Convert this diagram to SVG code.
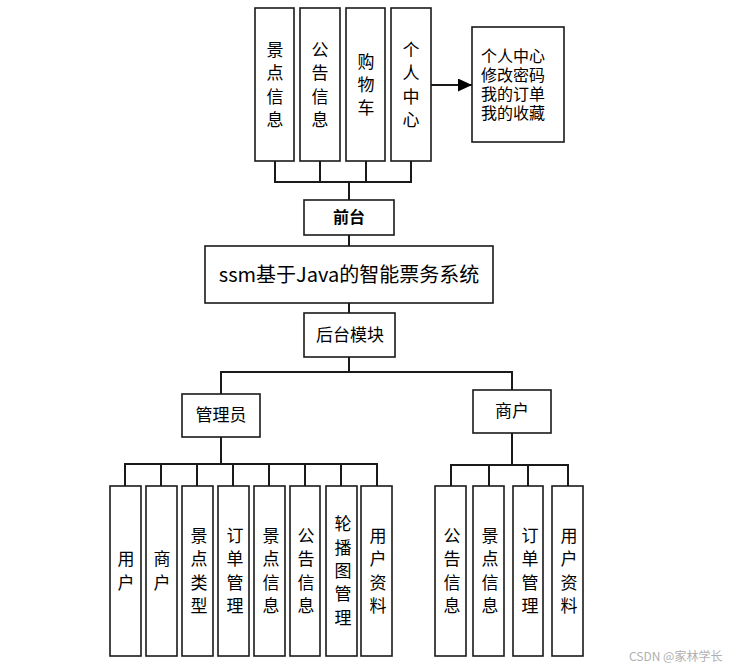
<svg xmlns="http://www.w3.org/2000/svg" width="739" height="669" viewBox="0 0 739 669">
<style>
.box{fill:#fff;stroke:#1a1a1a;stroke-width:1.6}
.t{font-family:"Noto Sans CJK SC","Microsoft YaHei",sans-serif;fill:#000;font-size:17px}
.c{text-anchor:middle}
.ln{fill:none;stroke:#1a1a1a;stroke-width:2}
.wm{font-family:"Noto Sans CJK SC",sans-serif;font-size:12px;fill:#b0b0b0}
</style>
<defs>
<marker id="ah" markerWidth="14" markerHeight="13" refX="14" refY="6.5" orient="auto" markerUnits="userSpaceOnUse" viewBox="0 0 14 13">
<path d="M0,0 L14,6.5 L0,13 Z" fill="#000"/>
</marker>
</defs>
<rect width="739" height="669" fill="#fff"/>
<g id="connectors">
<path class="ln" d="M275,161V182M320,161V182M366,161V182M411,161V182M274,182H412M349,182V200"/>
<path class="ln" d="M431,85H472" marker-end="url(#ah)"/>
<path class="ln" d="M349,235V246M349,303V313M349,357V372"/>
<path class="ln" d="M221,394V372H512V390"/>
<path class="ln" d="M221,437V464M125,486V464H377V486M161,464V486M197,464V486M233,464V486M269,464V486M305,464V486M341,464V486"/>
<path class="ln" d="M512,433V465M451,486V465H568V486M489,465V486M528,465V486"/>
</g>
<g id="n_jdxx_top"><rect class="box" x="255" y="8" width="39" height="153"/><text class="t c" x="275" y="56">景<tspan x="275" dy="23.3">点</tspan><tspan x="275" dy="23.3">信</tspan><tspan x="275" dy="23.3">息</tspan></text></g>
<g id="n_ggxx_top"><rect class="box" x="300" y="8" width="40" height="153"/><text class="t c" x="320" y="56">公<tspan x="320" dy="23.3">告</tspan><tspan x="320" dy="23.3">信</tspan><tspan x="320" dy="23.3">息</tspan></text></g>
<g id="n_gwc"><rect class="box" x="346" y="8" width="39" height="153"/><text class="t c" x="366" y="67.7">购<tspan x="366" dy="23.3">物</tspan><tspan x="366" dy="23.3">车</tspan></text></g>
<g id="n_grzx"><rect class="box" x="391" y="8" width="40" height="153"/><text class="t c" x="411" y="56">个<tspan x="411" dy="23.3">人</tspan><tspan x="411" dy="23.3">中</tspan><tspan x="411" dy="23.3">心</tspan></text></g>
<g id="n_grzx_detail"><rect class="box" x="472" y="27" width="92" height="115"/><text class="t" x="481" y="62" style="font-size:16px;font-family:'Liberation Sans','Noto Sans CJK SC',sans-serif">个人中心<tspan x="481" dy="19">修改密码</tspan><tspan x="481" dy="19">我的订单</tspan><tspan x="481" dy="19">我的收藏</tspan></text></g>
<g id="n_qiantai"><rect class="box" x="304" y="200" width="90" height="35"/><text class="t c" x="349" y="223" style="font-weight:bold;font-size:16px">前台</text></g>
<g id="n_system"><rect class="box" x="205" y="246" width="288" height="57"/><text class="t c" x="349" y="282" style="font-size:20px">ssm基于Java的智能票务系统</text></g>
<g id="n_houtai"><rect class="box" x="304" y="313" width="91" height="44"/><text class="t c" x="350" y="341">后台模块</text></g>
<g id="n_admin"><rect class="box" x="182" y="394" width="78" height="43"/><text class="t c" x="221" y="421">管理员</text></g>
<g id="n_merchant"><rect class="box" x="473" y="390" width="78" height="43"/><text class="t c" x="512" y="417">商户</text></g>
<g id="n_a1"><rect class="box" x="110" y="486" width="31" height="170"/><text class="t c" x="126" y="565.4">用<tspan x="126" dy="23.3">户</tspan></text></g>
<g id="n_a2"><rect class="box" x="146" y="486" width="31" height="170"/><text class="t c" x="162" y="565.4">商<tspan x="162" dy="23.3">户</tspan></text></g>
<g id="n_a3"><rect class="box" x="182" y="486" width="31" height="170"/><text class="t c" x="199" y="542">景<tspan x="199" dy="23.3">点</tspan><tspan x="199" dy="23.3">类</tspan><tspan x="199" dy="23.3">型</tspan></text></g>
<g id="n_a4"><rect class="box" x="218" y="486" width="31" height="170"/><text class="t c" x="235" y="542">订<tspan x="235" dy="23.3">单</tspan><tspan x="235" dy="23.3">管</tspan><tspan x="235" dy="23.3">理</tspan></text></g>
<g id="n_a5"><rect class="box" x="254" y="486" width="31" height="170"/><text class="t c" x="271" y="542">景<tspan x="271" dy="23.3">点</tspan><tspan x="271" dy="23.3">信</tspan><tspan x="271" dy="23.3">息</tspan></text></g>
<g id="n_a6"><rect class="box" x="290" y="486" width="30" height="170"/><text class="t c" x="306" y="542">公<tspan x="306" dy="23.3">告</tspan><tspan x="306" dy="23.3">信</tspan><tspan x="306" dy="23.3">息</tspan></text></g>
<g id="n_a7"><rect class="box" x="326" y="486" width="31" height="170"/><text class="t c" x="343" y="530.4">轮<tspan x="343" dy="23.3">播</tspan><tspan x="343" dy="23.3">图</tspan><tspan x="343" dy="23.3">管</tspan><tspan x="343" dy="23.3">理</tspan></text></g>
<g id="n_a8"><rect class="box" x="361" y="486" width="31" height="170"/><text class="t c" x="378" y="542">用<tspan x="378" dy="23.3">户</tspan><tspan x="378" dy="23.3">资</tspan><tspan x="378" dy="23.3">料</tspan></text></g>
<g id="n_m1"><rect class="box" x="435" y="486" width="31" height="170"/><text class="t c" x="452" y="542">公<tspan x="452" dy="23.3">告</tspan><tspan x="452" dy="23.3">信</tspan><tspan x="452" dy="23.3">息</tspan></text></g>
<g id="n_m2"><rect class="box" x="473" y="486" width="31" height="170"/><text class="t c" x="490" y="542">景<tspan x="490" dy="23.3">点</tspan><tspan x="490" dy="23.3">信</tspan><tspan x="490" dy="23.3">息</tspan></text></g>
<g id="n_m3"><rect class="box" x="513" y="486" width="30" height="170"/><text class="t c" x="530" y="542">订<tspan x="530" dy="23.3">单</tspan><tspan x="530" dy="23.3">管</tspan><tspan x="530" dy="23.3">理</tspan></text></g>
<g id="n_m4"><rect class="box" x="552" y="486" width="31" height="170"/><text class="t c" x="569" y="542">用<tspan x="569" dy="23.3">户</tspan><tspan x="569" dy="23.3">资</tspan><tspan x="569" dy="23.3">料</tspan></text></g>
<text class="wm" x="629" y="661">CSDN @家林学长</text>
</svg>
